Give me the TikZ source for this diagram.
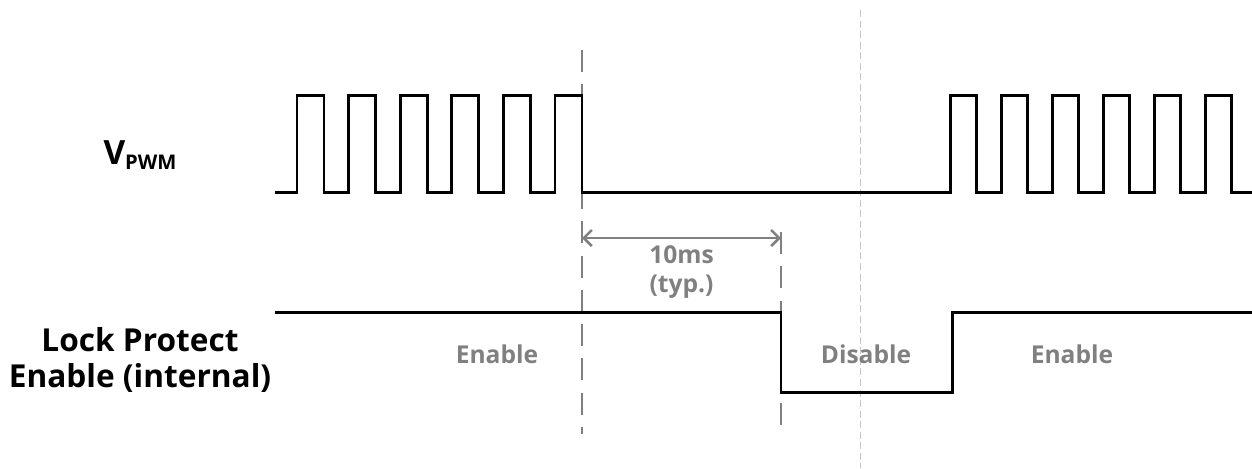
\documentclass[tikz,border=0pt]{standalone}
\usepackage{fontspec}
\setmainfont{Open Sans}
\usepackage{tikz}
\usetikzlibrary{arrows.meta,calc}

\begin{document}
\begin{tikzpicture}[x=0.02cm,y=-0.02cm,
  every node/.style={font=\bfseries,inner sep=0pt},
  wave/.style={line width=1.7pt,black},
  guide/.style={line width=1.7pt,gray,dash pattern=on 12.5pt off 7pt},
  faint/.style={line width=0.5pt,gray!45,dash pattern=on 4pt off 2pt},
  state/.style={gray,font=\bfseries\fontsize{14}{16}\selectfont},
  sig/.style={align=center,font=\bfseries\fontsize{18}{21}\selectfont}]
\useasboundingbox (0,0) rectangle (1252,468);

% signal names
\node[sig] (vpwm) at (140,155) {\fontsize{19}{21}\selectfont V\raisebox{-0.25ex}{\fontsize{11.5}{12}\selectfont PWM}};
\node[sig] (lock) at (140,360) {Lock Protect\\Enable (internal)};

% time marks
\coordinate (m1top) at (582,50);
\coordinate (m1bot) at (582,434);
\coordinate (m2top) at (781,232);
\coordinate (m2bot) at (781,434);
\coordinate (m3top) at (860,10);
\coordinate (m3bot) at (860,468);
\draw[faint] (m3top)--(m3bot);
\draw[guide] (m1top)--(m1bot);
\draw[guide] (m2top)--(m2bot);

% V_PWM
\draw[wave] (275,192)
  \foreach \i in {0,...,5} { -- ({297+51.6*\i},192) -- ++(0,-97) -- ++(27,0) -- ++(0,97) }
  -- (950,192)
  \foreach \i in {0,...,5} { -- ({950+51*\i},192) -- ++(0,-97) -- ++(26.5,0) -- ++(0,97) }
  -- (1252,192);

% lock protect
\draw[wave] (275,312) -- (781,312) -- (781,392) -- (952,392) -- (952,312) -- (1252,312);

% delay
\coordinate (d1) at (582,238);
\coordinate (d2) at (781,238);
\draw[line width=1.5pt,gray,{Straight Barb[length=1.6mm,width=3.2mm]}-{Straight Barb[length=1.6mm,width=3.2mm]}] (d1)--(d2);
\node[state,align=center] (delay) at ($(d1)!0.5!(d2)+(0,34)$) {10ms\\(typ.)};

\node[state] (en1) at (497,354) {Enable};
\node[state] (dis) at (866,354) {Disable};
\node[state] (en2) at (1072,354) {Enable};
\end{tikzpicture}
\end{document}
